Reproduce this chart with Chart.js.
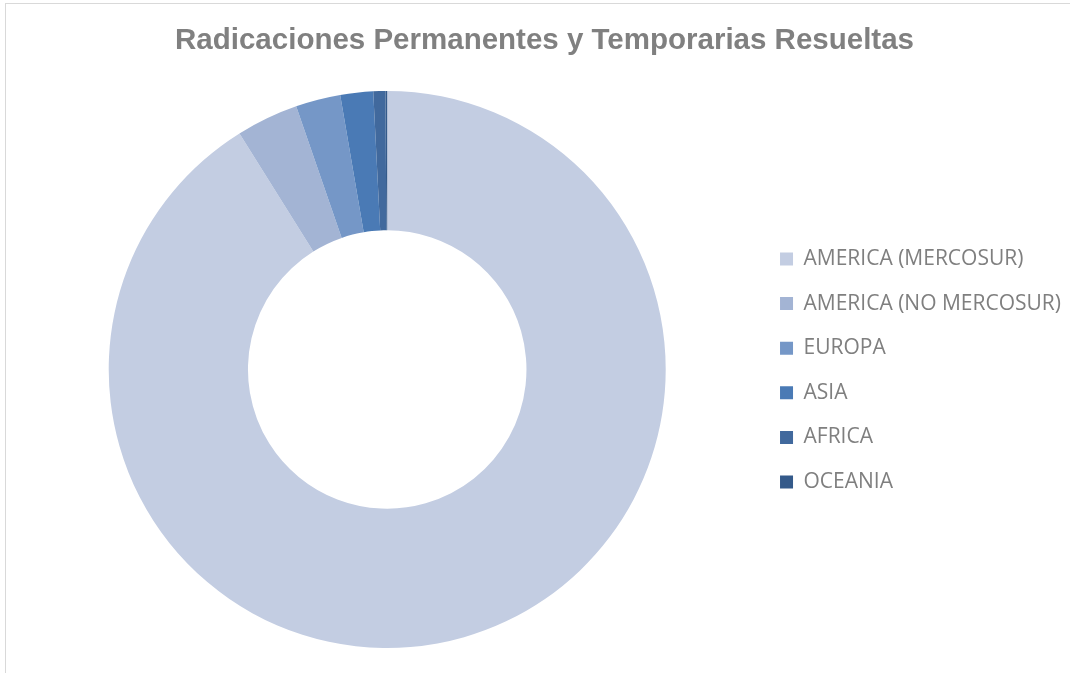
<!DOCTYPE html>
<html>
<head>
<meta charset="utf-8">
<script src="https://cdn.jsdelivr.net/npm/chart.js@4.4.1/dist/chart.umd.min.js"></script>
<style>
  html, body { margin: 0; padding: 0; background: #fff; }
  #frame {
    position: absolute; left: 5px; top: 3px; width: 1065px; height: 670px;
    border-top: 1px solid #d9d9d9; border-left: 1px solid #d9d9d9;
  }
  #frame canvas { display: block; }
</style>
</head>
<body>
<div id="frame"><canvas id="regionChart"></canvas></div>
<script>
// regions and their share of resolved radications (%)
const regions = ['AMERICA (MERCOSUR)', 'AMERICA (NO MERCOSUR)', 'EUROPA', 'ASIA', 'AFRICA', 'OCEANIA'];
const shares = [91.1, 3.6, 2.6, 1.9, 0.7, 0.1];
const sliceColors = ['#c3cde2', '#a3b4d4', '#7597c7', '#4a7ab5', '#41699d', '#345a8a'];

const ctx = document.getElementById('regionChart').getContext('2d');
const chart = new Chart(ctx, {
  type: 'doughnut',
  data: {
    labels: regions,
    datasets: [{
      data: shares,
      backgroundColor: sliceColors,
      borderWidth: 0
    }]
  },
  options: {
    responsive: true,
    maintainAspectRatio: false,
    animation: false,
    cutout: '50%',
    layout: { padding: { left: 12, right: 0, top: 0, bottom: 26 } },
    plugins: {
      title: {
        display: true,
        text: 'Radicaciones Permanentes y Temporarias Resueltas',
        color: '#808080',
        font: { family: '"Liberation Sans", Arial, sans-serif', size: 29.5, weight: 'bold' },
        padding: { top: 19.3, bottom: 32.3 }
      },
      legend: {
        position: 'right',
        // empty title only pushes the items down to the middle of the ring
        title: { display: true, text: '', font: { size: 10 }, padding: { top: 38.5, bottom: 38.5 } },
        labels: {
          color: '#7f7f7f',
          boxWidth: 13,
          boxHeight: 13,
          padding: 23.6,
          font: { family: '"Open Sans", sans-serif', size: 21 }
        }
      },
      tooltip: { enabled: false }
    }
  }
});
</script>
</body>
</html>
